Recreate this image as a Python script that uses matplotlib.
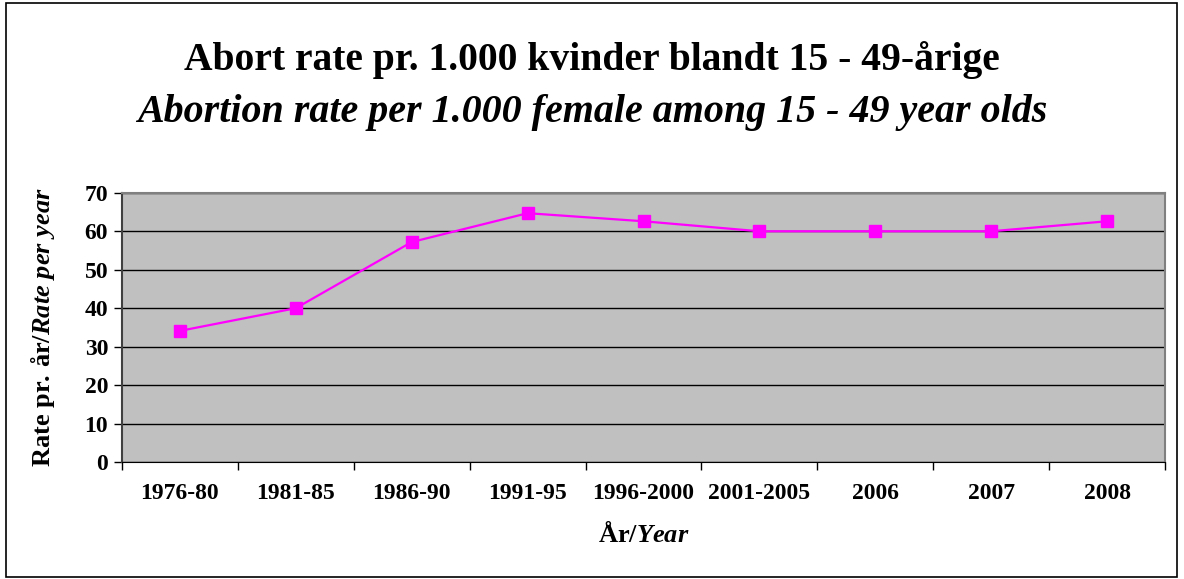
import matplotlib.pyplot as plt
from matplotlib.patches import Rectangle

# Data
periods = ["1976-80", "1981-85", "1986-90", "1991-95", "1996-2000",
           "2001-2005", "2006", "2007", "2008"]
rates = [34.1, 40.0, 57.2, 64.7, 62.6, 60.0, 60.0, 60.0, 62.6]
y_ticks = [0, 10, 20, 30, 40, 50, 60, 70]

plt.rcParams["font.family"] = ["Liberation Serif", "DejaVu Serif"]
plt.rcParams["mathtext.fontset"] = "custom"
plt.rcParams["mathtext.rm"] = "Liberation Serif:bold"
plt.rcParams["mathtext.it"] = "Liberation Serif:bold:italic"
plt.rcParams["mathtext.bf"] = "Liberation Serif:bold"

fig = plt.figure(figsize=(11.84, 5.79), dpi=100)
ax = fig.add_axes([0.103, 0.202, 0.881, 0.465])
ax.set_facecolor("#C0C0C0")

x = list(range(len(periods)))
ax.plot(x, rates, color="#FF00FF", linewidth=1.6, marker="s",
        markersize=9, zorder=3)

ax.set_xlim(-0.5, len(periods) - 0.5)
ax.set_ylim(0, 70)
ax.set_yticks(y_ticks)
ax.set_yticklabels([str(v) for v in y_ticks], fontsize=17, fontweight="bold")
ax.set_xticks(x)
ax.set_xticklabels(periods, fontsize=17, fontweight="bold")
ax.tick_params(axis="x", which="major", length=0, pad=15)
ax.set_xticks([i + 0.5 for i in range(-1, len(periods))], minor=True)
ax.tick_params(axis="x", which="minor", length=6, direction="out", width=1)
ax.tick_params(axis="y", length=6, direction="out", width=1, pad=4)

ax.grid(axis="y", color="black", linewidth=1)
ax.set_axisbelow(True)
for side in ["top", "right"]:
    ax.spines[side].set_color("#808080")
    ax.spines[side].set_linewidth(1.5)
ax.spines["left"].set_color("#404040")
ax.spines["left"].set_linewidth(1.5)
ax.spines["bottom"].set_color("black")

ax.set_ylabel(r"$\mathrm{Rate\ pr.\,år/}\mathit{Rate\ per\ year}$",
              fontsize=19, labelpad=20)
ax.set_xlabel(r"$\mathrm{År/}\mathit{Year}$", fontsize=19, labelpad=12)

fig.text(0.5, 0.897, "Abort rate pr. 1.000 kvinder blandt 15 - 49-årige",
         ha="center", va="center", fontsize=28.5, fontweight="bold")
fig.text(0.5, 0.806, "Abortion rate per 1.000 female among 15 - 49 year olds",
         ha="center", va="center", fontsize=28.8, fontweight="bold",
         fontstyle="italic")

fig.patches.append(Rectangle((0.005, 0.004), 0.989, 0.99, transform=fig.transFigure,
                             fill=False, edgecolor="black", linewidth=1.2))

fig.savefig("out.png", dpi=100)
